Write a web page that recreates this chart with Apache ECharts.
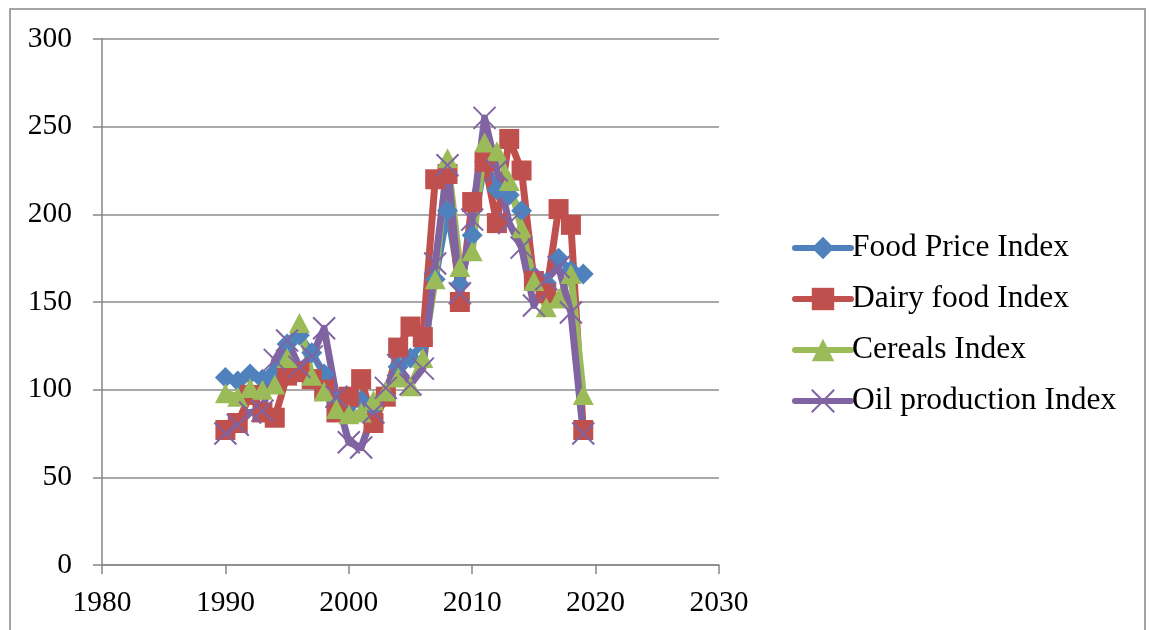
<!DOCTYPE html>
<html>
<head>
<meta charset="utf-8">
<script src="https://cdn.jsdelivr.net/npm/echarts@6/dist/echarts.min.js"></script>
<style>
  html, body { margin: 0; padding: 0; background: #ffffff; }
  #chart { width: 1149px; height: 630px; }
</style>
</head>
<body>
<div id="chart"></div>
<script>
// Years covered by every series
var years = [1990, 1991, 1992, 1993, 1994, 1995, 1996, 1997, 1998, 1999,
             2000, 2001, 2002, 2003, 2004, 2005, 2006, 2007, 2008, 2009,
             2010, 2011, 2012, 2013, 2014, 2015, 2016, 2017, 2018, 2019];

var foodPrice = [107, 105, 109, 106, 110, 126, 131, 121, 109, 93,
                 91, 94, 90, 98, 113, 118, 127, 163, 202, 160,
                 188, 230, 214, 211, 202, 164, 161, 175, 168, 166];

var dairyFood = [77, 81, 97, 87, 84, 108, 110, 106, 100, 87,
                 96, 106, 81, 96, 124, 136, 130, 220, 223, 150,
                 207, 230, 195, 243, 225, 162, 155, 203, 194, 77];

var cereals = [98, 96, 101, 100, 103, 118, 138, 108, 99, 89,
               86, 87, 94, 99, 107, 102, 118, 163, 232, 170,
               179, 241, 236, 219, 192, 162, 147, 152, 166, 97];

var oilProduction = [75, 80, 87, 88, 117, 128, 113, 119, 135, 96,
                     70, 67, 87, 101, 114, 103, 112, 172, 228, 155,
                     197, 255, 225, 195, 181, 148, 163, 170, 144, 75];

var seriesNames = ['Food Price Index', 'Dairy food Index', 'Cereals Index', 'Oil production Index'];
var seriesColors = ['#4F81BD', '#C0504D', '#9BBB59', '#8064A2'];

function pairs(values) {
  return years.map(function (y, i) { return [y, values[i]]; });
}

var FONT = 'Liberation Serif';
var crossSymbol = 'path://M0,0L10,10M10,0L0,10';
var LINE_W = 7;

function lineStyleFor(i) {
  return { color: seriesColors[i], width: LINE_W, cap: 'round', join: 'round' };
}

var chart = echarts.init(document.getElementById('chart'), null, { renderer: 'canvas' });

chart.setOption({
  animation: false,
  backgroundColor: '#ffffff',
  graphic: [{
    type: 'rect',
    shape: { x: 10, y: 9, width: 1135, height: 700 },
    style: { fill: 'none', stroke: '#868686', lineWidth: 1.5 },
    silent: true,
    z: -1
  }],
  grid: { left: 102, right: 430, top: 39, bottom: 65 },
  legend: {
    orient: 'vertical',
    left: 787,
    top: 227,
    itemWidth: 56,
    itemHeight: 28,
    itemGap: 19,
    lineStyle: { width: 6, cap: 'round' },
    textStyle: { fontFamily: FONT, fontSize: 31.5, color: '#000000', padding: [0, 0, 0, -4] },
    data: seriesNames
  },
  xAxis: {
    type: 'value',
    min: 1980,
    max: 2030,
    interval: 10,
    axisLine: { show: true, lineStyle: { color: '#868686', width: 1.5 } },
    axisTick: { show: true, length: 9, lineStyle: { color: '#868686', width: 1.5 } },
    splitLine: { show: false },
    axisLabel: {
      fontFamily: FONT, fontSize: 29.5, color: '#000000', margin: 23,
      formatter: function (v) { return String(v); }
    }
  },
  yAxis: {
    type: 'value',
    min: 0,
    max: 300,
    interval: 50,
    axisLine: { show: true, lineStyle: { color: '#868686', width: 1.5 } },
    axisTick: { show: true, length: 9, lineStyle: { color: '#868686', width: 1.5 } },
    splitLine: { show: true, lineStyle: { color: '#8c8c8c', width: 1.5 } },
    axisLabel: { fontFamily: FONT, fontSize: 29.5, color: '#000000', margin: 30 }
  },
  series: [
    {
      name: seriesNames[0], type: 'line', data: pairs(foodPrice),
      symbol: 'diamond', symbolSize: 21,
      lineStyle: lineStyleFor(0),
      itemStyle: { color: seriesColors[0] }
    },
    {
      name: seriesNames[1], type: 'line', data: pairs(dairyFood),
      symbol: 'rect', symbolSize: 20,
      lineStyle: lineStyleFor(1),
      itemStyle: { color: seriesColors[1] }
    },
    {
      name: seriesNames[2], type: 'line', data: pairs(cereals),
      symbol: 'triangle', symbolSize: [21, 20],
      lineStyle: lineStyleFor(2),
      itemStyle: { color: seriesColors[2] }
    },
    {
      name: seriesNames[3], type: 'line', data: pairs(oilProduction),
      symbol: crossSymbol, symbolSize: 22,
      lineStyle: lineStyleFor(3),
      itemStyle: { color: 'none', borderColor: seriesColors[3], borderWidth: 2 }
    }
  ]
});
</script>
</body>
</html>
